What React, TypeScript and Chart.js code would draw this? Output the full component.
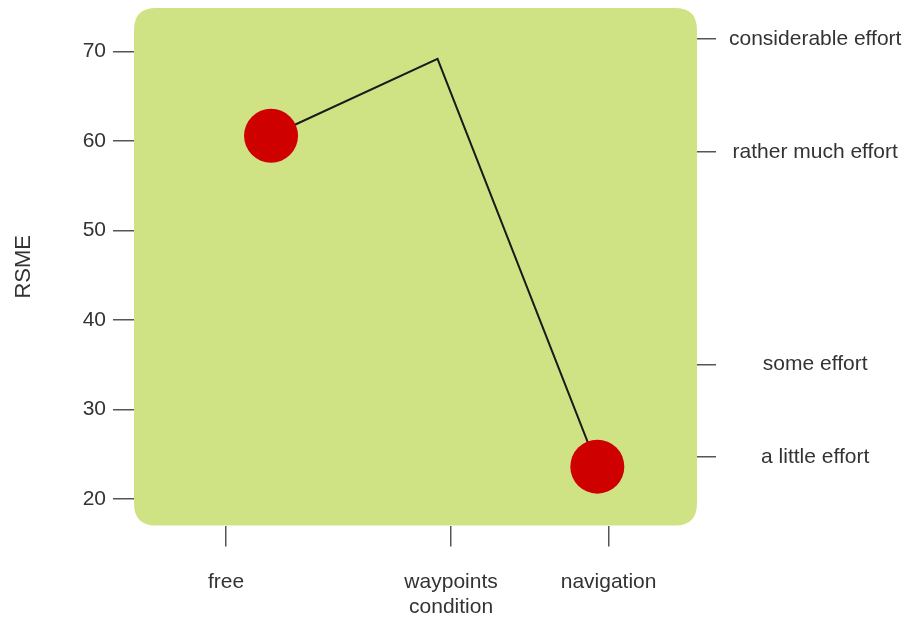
import React, { useEffect, useRef } from "react";
import { Chart, registerables } from "chart.js";

Chart.register(...registerables);

// ---- data ----
const categories: (string | string[])[] = ["free", ["waypoints", "condition"], "navigation"];
const categoryPositions = [1, 2, 2.7];
const pointX = [1.2, 1.94, 2.65];
const rsmeValues = [60.6, 69.2, 23.6];
const showMarker = [true, false, true];
const yTicks = [20, 30, 40, 50, 60, 70];
const effortLabels = ["a little effort", "some effort", "rather much effort", "considerable effort"];
const effortValues = [24.7, 35, 58.8, 71.4];

const Y_MIN = 17.02;
const Y_MAX = 74.88;
const X_MIN = 0.591;
const X_MAX = 3.093;

const FONT = "'Liberation Sans', Arial, sans-serif";
const TEXT = "#333333";
const TICK = "#555555";

const panelPlugin = {
  id: "panel",
  beforeDraw(chart: any) {
    const { ctx, chartArea } = chart;
    const { left, top, right, bottom } = chartArea;
    const r = 22;
    ctx.save();
    ctx.fillStyle = "#d0e384";
    ctx.beginPath();
    ctx.moveTo(left + r, top);
    ctx.lineTo(right - r, top);
    ctx.quadraticCurveTo(right, top, right, top + r);
    ctx.lineTo(right, bottom - r);
    ctx.quadraticCurveTo(right, bottom, right - r, bottom);
    ctx.lineTo(left + r, bottom);
    ctx.quadraticCurveTo(left, bottom, left, bottom - r);
    ctx.lineTo(left, top + r);
    ctx.quadraticCurveTo(left, top, left + r, top);
    ctx.closePath();
    ctx.fill();
    ctx.restore();
  },
};

const noPad = (s: any) => {
  s.paddingTop = 0;
  s.paddingBottom = 0;
  s.paddingLeft = 0;
  s.paddingRight = 0;
};

export default function App() {
  const ref = useRef<HTMLCanvasElement | null>(null);

  useEffect(() => {
    if (!ref.current) return;
    const chart = new Chart(ref.current, {
      type: "line",
      data: {
        datasets: [
          {
            data: pointX.map((x, i) => ({ x, y: rsmeValues[i] })),
            borderColor: "#1a1a1a",
            borderWidth: 2,
            pointRadius: showMarker.map((s) => (s ? 27 : 0)),
            pointHoverRadius: showMarker.map((s) => (s ? 27 : 0)),
            pointBackgroundColor: "#cf0000",
            pointBorderColor: "#cf0000",
            pointBorderWidth: 0,
            tension: 0,
            fill: false,
            clip: false,
          },
        ],
      },
      options: {
        responsive: false,
        animation: false,
        layout: { autoPadding: false, padding: { top: 8, left: 0, right: 0, bottom: 0 } },
        plugins: { legend: { display: false }, tooltip: { enabled: false } },
        scales: {
          x: {
            type: "linear",
            min: X_MIN,
            max: X_MAX,
            afterBuildTicks: (s: any) => {
              s.ticks = categoryPositions.map((v) => ({ value: v }));
            },
            afterFit: (s: any) => {
              s.height = 91.5;
              noPad(s);
            },
            border: { display: false },
            grid: { drawOnChartArea: false, color: TICK, lineWidth: 1.5, tickLength: 21 },
            ticks: {
              autoSkip: false,
              maxRotation: 0,
              minRotation: 0,
              padding: 23,
              color: TEXT,
              font: { family: FONT, size: 21, lineHeight: 1.2 },
              callback: (_v: any, i: number) => categories[i] as any,
            },
          },
          y: {
            type: "linear",
            position: "left",
            min: Y_MIN,
            max: Y_MAX,
            afterBuildTicks: (s: any) => {
              s.ticks = yTicks.map((v) => ({ value: v }));
            },
            afterFit: (s: any) => {
              s.width = 134;
              noPad(s);
            },
            border: { display: false },
            grid: { drawOnChartArea: false, color: TICK, lineWidth: 1.5, tickLength: 21 },
            ticks: {
              padding: 7,
              color: TEXT,
              font: { family: FONT, size: 21 },
            },
            title: {
              display: true,
              text: "RSME",
              color: TEXT,
              font: { family: FONT, size: 22, lineHeight: 1.2 },
              padding: { top: 11, bottom: 0 },
            },
          },
          y2: {
            type: "linear",
            position: "right",
            min: Y_MIN,
            max: Y_MAX,
            afterBuildTicks: (s: any) => {
              s.ticks = effortValues.map((v) => ({ value: v }));
            },
            afterFit: (s: any) => {
              s.width = 213;
              noPad(s);
            },
            border: { display: false },
            grid: { drawOnChartArea: false, color: TICK, lineWidth: 1.5, tickLength: 19 },
            ticks: {
              padding: 13,
              crossAlign: "center",
              color: TEXT,
              font: { family: FONT, size: 21 },
              callback: (_v: any, i: number) => effortLabels[i],
            },
          },
        },
      },
      plugins: [panelPlugin],
    } as any);
    return () => chart.destroy();
  }, []);

  return (
    <div style={{ position: "absolute", left: 0, top: 0, width: 910, height: 617, background: "#ffffff" }}>
      <canvas ref={ref} width={910} height={617} style={{ display: "block" }} />
    </div>
  );
}
